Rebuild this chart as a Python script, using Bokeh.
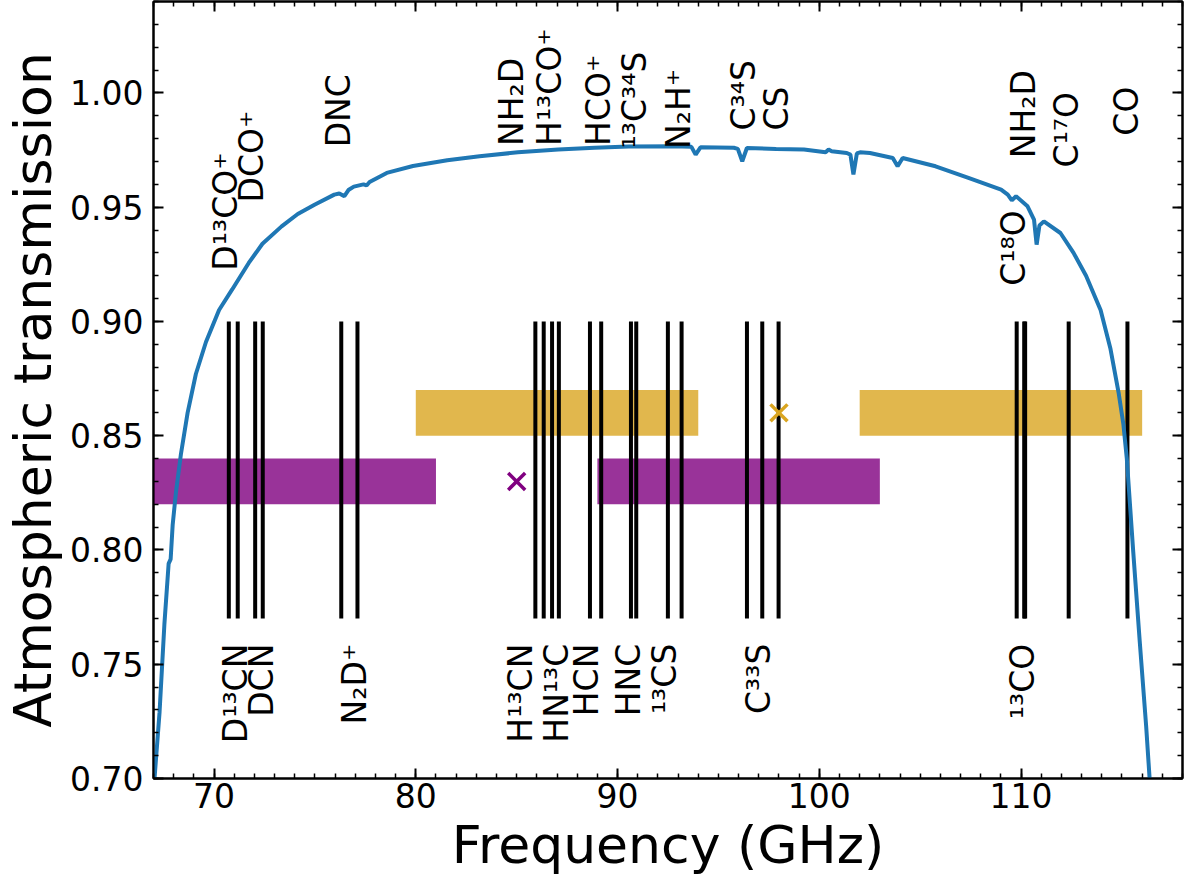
import numpy as np
from bokeh.plotting import figure
from bokeh.models import LinearAxis, SingleIntervalTicker, PrintfTickFormatter, CustomJSTickFormatter
from bokeh.embed import file_html
from bokeh.resources import INLINE
from bokeh.core.properties import value

# ---------------- data ----------------
freq_curve = [67.00, 67.05, 67.30, 67.54, 67.75, 67.85, 67.95, 68.11, 68.36, 68.69,
              69.10, 69.60, 70.25, 70.90, 71.72, 72.40, 73.35, 74.15, 74.98, 75.96,
              76.21, 76.46, 76.66, 76.93, 77.41, 77.56, 77.71, 78.56, 79.86, 81.56,
              83.16, 85.06, 87.06, 88.86, 90.56, 92.73, 93.66, 93.87, 94.11, 95.76,
              95.96, 96.18, 96.41, 97.86, 99.24, 100.31, 100.46, 100.61, 101.36, 101.54,
              101.69, 101.86, 102.02, 102.51, 103.64, 103.88, 104.13, 105.76, 107.39, 109.01,
              109.34, 109.54, 109.75, 110.32, 110.64, 110.77, 110.91, 111.13, 111.95, 112.60,
              113.22, 113.94, 114.43, 114.83, 115.07, 115.24, 115.56, 115.88, 116.20, 116.37,
              116.45]
trans_curve = [0.690, 0.700, 0.729, 0.7675, 0.794, 0.796, 0.811, 0.825, 0.842, 0.860,
               0.877, 0.891, 0.905, 0.914, 0.9256, 0.934, 0.9416, 0.947, 0.9511, 0.9555,
               0.9560, 0.9548, 0.9575, 0.9590, 0.9600, 0.9595, 0.9610, 0.9650, 0.9680, 0.9705,
               0.9723, 0.9740, 0.9752, 0.9760, 0.9765, 0.9767, 0.9764, 0.9730, 0.9762, 0.9760,
               0.9755, 0.9701, 0.9759, 0.9755, 0.9752, 0.9740, 0.9752, 0.9745, 0.9737, 0.9730,
               0.9643, 0.9735, 0.9740, 0.9737, 0.9715, 0.9679, 0.9715, 0.9679, 0.9628, 0.9577,
               0.9555, 0.9530, 0.9548, 0.9504, 0.9446, 0.9336, 0.9420, 0.9438, 0.9387, 0.9300,
               0.9200, 0.9050, 0.8880, 0.8690, 0.8550, 0.8400, 0.7990, 0.7600, 0.7227, 0.7000,
               0.6900]

# molecular line frequencies (GHz)
line_freqs = [70.733, 71.175, 72.039, 72.415, 76.306, 77.109, 85.926, 86.340, 86.754,
              87.091, 88.632, 89.189, 90.664, 90.926, 92.494, 93.174, 96.413, 97.172,
              97.981, 109.782, 110.154, 110.201, 112.359, 115.271]
line_low = 0.77
line_high = 0.90

# labels above the lines: name, frequency position, start level
upper_names = ["D¹³CO⁺", "DCO⁺", "DNC", "NH₂D", "H¹³CO⁺", "HCO⁺", "¹³C³⁴S", "N₂H⁺",
               "C³⁴S", "CS", "C¹⁸O", "NH₂D", "C¹⁷O", "CO"]
upper_x = [70.58, 71.87, 76.17, 84.75, 86.62, 89.07, 90.85, 93.02,
           96.23, 97.88, 109.63, 110.12, 112.27, 115.23]
upper_y = [0.9222, 0.9521, 0.9762, 0.9768, 0.9768, 0.9768, 0.9757, 0.9755,
           0.9835, 0.9835, 0.9156, 0.9714, 0.9674, 0.9813]

# labels below the lines: name, frequency position (all end at lower_end)
lower_names = ["D¹³CN", "DCN", "N₂D⁺", "H¹³CN", "HN¹³C", "HCN", "HNC", "¹³CS", "C³³S", "¹³CO"]
lower_x = [71.04, 72.33, 76.98, 85.20, 86.95, 88.48, 90.53, 92.34, 96.98, 110.05]
lower_end = 0.759

# tuning bands
purple_left = [67.0, 89.0]
purple_right = [81.0, 103.0]
purple_bottom = 0.82
purple_top = 0.84
gold_left = [80.0, 102.0]
gold_right = [94.0, 116.0]
gold_bottom = 0.85
gold_top = 0.87

purple_mark_x = [85.0]
purple_mark_y = [0.83]
gold_mark_x = [98.0]
gold_mark_y = [0.86]

x_ticks_interval = 10
y_ticks_interval = 0.05

# ---------------- figure ----------------
FONT = "DejaVu Sans"

p = figure(width=1184, height=878, x_range=(67, 118), y_range=(0.70, 1.04),
           output_backend="svg", toolbar_location=None,
           min_border_left=145, min_border_right=2, min_border_top=1,
           min_border_bottom=100)
p.background_fill_color = "white"
p.border_fill_color = "white"
p.xgrid.visible = False
p.ygrid.visible = False
p.outline_line_color = "black"
p.outline_line_width = 2

# bands
p.quad(left=purple_left, right=purple_right, bottom=purple_bottom, top=purple_top,
       fill_color="#800080", fill_alpha=0.8, line_color=None)
p.quad(left=gold_left, right=gold_right, bottom=gold_bottom, top=gold_top,
       fill_color="#DAA520", fill_alpha=0.8, line_color=None)

# lines
p.segment(x0=line_freqs, y0=[line_low] * len(line_freqs),
          x1=line_freqs, y1=[line_high] * len(line_freqs),
          line_color="black", line_width=4)

# transmission curve
p.line(freq_curve, trans_curve, line_color="#1f77b4", line_width=4)

# markers
p.scatter(purple_mark_x, purple_mark_y, marker="x", size=24, line_color="#800080", line_width=3.5)
p.scatter(gold_mark_x, gold_mark_y, marker="x", size=24, line_color="#DAA520", line_width=3.5)

# labels
p.text(x=upper_x, y=upper_y, text=upper_names, angle=np.pi / 2,
       text_align="left", text_baseline="middle",
       text_font=value(FONT), text_font_size="33px", text_color="black")
p.text(x=lower_x, y=[lower_end] * len(lower_x), text=lower_names, angle=np.pi / 2,
       text_align="right", text_baseline="middle",
       text_font=value(FONT), text_font_size="33px", text_color="black")

# axes
def style_axis(ax, show_labels):
    ax.major_tick_in = 10
    ax.major_tick_out = 0
    ax.minor_tick_in = 5
    ax.minor_tick_out = 0
    ax.major_tick_line_width = 2
    ax.minor_tick_line_width = 1.5
    ax.major_tick_line_color = "black"
    ax.minor_tick_line_color = "black"
    ax.axis_line_width = 2
    ax.axis_line_color = "black"
    if show_labels:
        ax.major_label_text_font = FONT
        ax.major_label_text_font_size = "33px"
        ax.major_label_text_color = "black"
        ax.axis_label_text_font = FONT
        ax.axis_label_text_font_size = "52px"
        ax.axis_label_text_font_style = "normal"
        ax.axis_label_text_color = "black"
    else:
        ax.formatter = CustomJSTickFormatter(code="return ''")
        ax.major_label_text_color = None
        ax.major_label_text_font_size = "1px"
        ax.major_label_standoff = 0

xt = SingleIntervalTicker(interval=x_ticks_interval, num_minor_ticks=10)
yt = SingleIntervalTicker(interval=y_ticks_interval, num_minor_ticks=5)

p.xaxis.ticker = xt
p.yaxis.ticker = yt
p.yaxis.formatter = PrintfTickFormatter(format="%.2f")
p.xaxis.axis_label = "Frequency (GHz)"
p.yaxis.axis_label = "Atmospheric transmission"
style_axis(p.xaxis[0], True)
style_axis(p.yaxis[0], True)
p.xaxis.major_label_standoff = 4
p.yaxis.major_label_standoff = 10
p.xaxis.axis_label_standoff = 4
p.yaxis.axis_label_standoff = 4

top_ax = LinearAxis(ticker=SingleIntervalTicker(interval=x_ticks_interval, num_minor_ticks=10))
right_ax = LinearAxis(ticker=SingleIntervalTicker(interval=y_ticks_interval, num_minor_ticks=5))
style_axis(top_ax, False)
style_axis(right_ax, False)
p.add_layout(top_ax, "above")
p.add_layout(right_ax, "right")

open("out.html", "w").write(file_html(p, INLINE))
